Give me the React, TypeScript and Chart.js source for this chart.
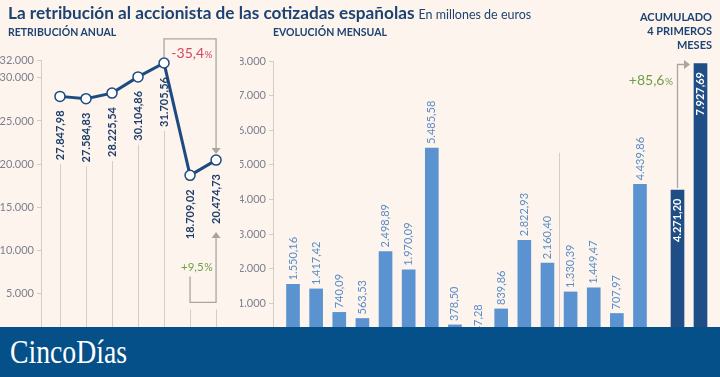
import React, { useEffect, useRef } from "react";
import { Chart, registerables } from "chart.js";

Chart.register(...registerables);

// ---------- DATA ----------
const annualYears = ["2015", "2016", "2017", "2018", "2019", "2020", "2021"];
const annualValues = [27847.98, 27584.83, 28225.54, 30104.86, 31705.56, 18709.02, 20474.73];
const annualTicks = [5000, 10000, 15000, 20000, 25000, 30000, 32000];

const monthLabels = [
  "Ene 21", "Feb 21", "Mar 21", "Abr 21", "May 21", "Jun 21", "Jul 21", "Ago 21",
  "Sep 21", "Oct 21", "Nov 21", "Dic 21", "Ene 22", "Feb 22", "Mar 22", "Abr 22",
];
const monthlyValues = [
  1550.16, 1417.42, 740.09, 563.53, 2498.89, 1970.09, 5485.58, 378.5,
  47.28, 839.86, 2822.93, 2160.4, 1330.39, 1449.47, 707.97, 4439.86,
];
const monthlyTicks = [1000, 2000, 3000, 4000, 5000, 6000, 7000, 8000];
const yearSplitIndex = 12;

const cumulativeLabels = ["Ene-abr 2021", "Ene-abr 2022"];
const cumulativeValues = [4271.2, 7927.69];

const dropLabel = "-35,4";
const recoveryLabel = "+9,5";
const cumulativeChangeLabel = "+85,6";

// ---------- STYLE ----------
const BG = "#fdf4ed";
const NAVY = "#1d4a80";
const TITLE = "#1c4373";
const LABEL_NAVY = "#1c3d6b";
const BAR_LIGHT = "#5b93d1";
const BAR_DARK = "#1f4d85";
const LABEL_LIGHT = "#5a8dc6";
const AXIS = "#d6ccc5";
const TICK = "#7c7f8e";
const ARROW = "#aaa5a2";
const RED = "#d8435e";
const GREEN = "#6e9f45";
const FONT = "Lato, 'Noto Sans', sans-serif";

function fmtThousands(v: number) {
  return Math.round(v).toString().replace(/\B(?=(\d{3})+(?!\d))/g, ".");
}
function fmtValue(v: number) {
  const [i, d] = v.toFixed(2).split(".");
  return i.replace(/\B(?=(\d{3})+(?!\d))/g, ".") + "," + d;
}

function arrowHead(ctx: CanvasRenderingContext2D, x: number, y: number, dir: "up" | "down" | "right") {
  ctx.save();
  ctx.fillStyle = ARROW;
  ctx.beginPath();
  if (dir === "down") {
    ctx.moveTo(x, y); ctx.lineTo(x - 4.5, y - 6); ctx.lineTo(x + 4.5, y - 6);
  } else if (dir === "up") {
    ctx.moveTo(x, y); ctx.lineTo(x - 4.5, y + 6); ctx.lineTo(x + 4.5, y + 6);
  } else {
    ctx.moveTo(x, y); ctx.lineTo(x - 6, y - 4.5); ctx.lineTo(x - 6, y + 4.5);
  }
  ctx.closePath();
  ctx.fill();
  ctx.restore();
}

function pctText(ctx: CanvasRenderingContext2D, num: string, xRight: number, baseline: number, color: string, size: number, pctSize: number) {
  ctx.save();
  ctx.fillStyle = color;
  ctx.textBaseline = "alphabetic";
  ctx.textAlign = "left";
  ctx.font = `${pctSize}px ${FONT}`;
  const pw = ctx.measureText("%").width;
  ctx.font = `${size}px ${FONT}`;
  const nw = ctx.measureText(num).width;
  const start = xRight - pw - nw;
  ctx.fillText(num, start, baseline);
  ctx.font = `${pctSize}px ${FONT}`;
  ctx.fillText("%", start + nw + 0.5, baseline);
  ctx.restore();
}

function rotText(ctx: CanvasRenderingContext2D, text: string, x: number, y: number, align: CanvasTextAlign) {
  ctx.save();
  ctx.translate(x, y);
  ctx.rotate(-Math.PI / 2);
  ctx.textAlign = align;
  ctx.textBaseline = "middle";
  ctx.fillText(text, 0, 0);
  ctx.restore();
}

const leftOverlay = {
  id: "leftOverlay",
  afterDatasetsDraw(chart: any) {
    const ctx: CanvasRenderingContext2D = chart.ctx;
    const meta = chart.getDatasetMeta(0);
    const ys = chart.scales.y;
    const area = chart.chartArea;
    const bracketBottom = ys.getPixelForValue(4000);
    const bracketLeftTop = ys.getPixelForValue(7000);
    const boxTop = ys.getPixelForValue(34500);
    ctx.save();
    ctx.font = `bold 11px ${FONT}`;
    const labelBottoms: number[] = [];
    meta.data.forEach((pt: any, i: number) => {
      const label = fmtValue(annualValues[i]);
      const w = ctx.measureText(label).width;
      const top = pt.y + 14;
      labelBottoms.push(top + w);
      ctx.fillStyle = LABEL_NAVY;
      rotText(ctx, label, pt.x, top, "right");
      const start = i < 5 ? top + w + 4 : bracketBottom + 7;
      ctx.strokeStyle = AXIS;
      ctx.lineWidth = 1;
      ctx.beginPath();
      ctx.moveTo(Math.round(pt.x) + 0.5, start);
      ctx.lineTo(Math.round(pt.x) + 0.5, area.bottom + 20);
      ctx.stroke();
    });
    const p4 = meta.data[4], p5 = meta.data[5], p6 = meta.data[6];
    ctx.strokeStyle = ARROW;
    ctx.lineWidth = 1.3;
    ctx.beginPath();
    ctx.moveTo(p4.x, p4.y - 6);
    ctx.lineTo(p4.x, boxTop);
    ctx.lineTo(p6.x, boxTop);
    ctx.lineTo(p6.x, p6.y - 11);
    ctx.stroke();
    arrowHead(ctx, p6.x, p6.y - 6, "down");
    pctText(ctx, dropLabel, p6.x - 4, boxTop + 19.5, RED, 14, 10);
    const tip = labelBottoms[6] + 8;
    ctx.beginPath();
    ctx.moveTo(p5.x, bracketLeftTop);
    ctx.lineTo(p5.x, bracketBottom);
    ctx.lineTo(p6.x, bracketBottom);
    ctx.lineTo(p6.x, tip + 5);
    ctx.stroke();
    arrowHead(ctx, p6.x, tip, "up");
    pctText(ctx, recoveryLabel, p6.x - 4, bracketLeftTop - 6, GREEN, 11.5, 10.5);
    ctx.restore();
  },
};

const midOverlay = {
  id: "midOverlay",
  afterDatasetsDraw(chart: any) {
    const ctx: CanvasRenderingContext2D = chart.ctx;
    const meta = chart.getDatasetMeta(0);
    const ys = chart.scales.y;
    const area = chart.chartArea;
    ctx.save();
    ctx.font = `11px ${FONT}`;
    ctx.fillStyle = LABEL_LIGHT;
    meta.data.forEach((bar: any, i: number) => {
      rotText(ctx, fmtValue(monthlyValues[i]), bar.x, bar.y - 4, "left");
    });
    const a = meta.data[yearSplitIndex - 1], b = meta.data[yearSplitIndex];
    const sx = Math.round((a.x + b.x) / 2) + 0.5;
    ctx.strokeStyle = AXIS;
    ctx.lineWidth = 1;
    ctx.beginPath();
    ctx.moveTo(sx, ys.getPixelForValue(5350));
    ctx.lineTo(sx, area.bottom + 20);
    ctx.stroke();
    ctx.restore();
  },
};

const rightOverlay = {
  id: "rightOverlay",
  afterDatasetsDraw(chart: any) {
    const ctx: CanvasRenderingContext2D = chart.ctx;
    const meta = chart.getDatasetMeta(0);
    ctx.save();
    ctx.font = `bold 11px ${FONT}`;
    ctx.fillStyle = "#ffffff";
    meta.data.forEach((bar: any, i: number) => {
      rotText(ctx, fmtValue(cumulativeValues[i]), bar.x, bar.y + 8.5, "right");
    });
    const b0 = meta.data[0], b1 = meta.data[1];
    const tipX = b1.x - b1.width / 2 - 4;
    ctx.strokeStyle = ARROW;
    ctx.lineWidth = 1.3;
    ctx.beginPath();
    ctx.moveTo(b0.x, b0.y - 2);
    ctx.lineTo(b0.x, b1.y + 1);
    ctx.lineTo(tipX - 5, b1.y + 1);
    ctx.stroke();
    arrowHead(ctx, tipX, b1.y + 1, "right");
    pctText(ctx, cumulativeChangeLabel, b0.x - 5, b1.y + 21.5, GREEN, 14, 10);
    ctx.restore();
  },
};

function yScale(max: number, ticks: number[], width: number) {
  return {
    min: 0,
    max,
    afterFit: (s: any) => { s.width = width; },
    afterBuildTicks: (s: any) => { s.ticks = ticks.map((v) => ({ value: v })); },
    border: { color: AXIS, width: 1 },
    grid: { drawOnChartArea: false, color: AXIS, tickLength: 4 },
    ticks: {
      callback: (v: any) => fmtThousands(Number(v)),
      font: { family: FONT, size: 11 },
      color: TICK,
      padding: 3,
    },
  };
}

const common = {
  animation: false as const,
  responsive: false,
  maintainAspectRatio: false,
  plugins: { legend: { display: false }, tooltip: { enabled: false } },
};

export default function App() {
  const leftRef = useRef<HTMLCanvasElement>(null);
  const midRef = useRef<HTMLCanvasElement>(null);
  const rightRef = useRef<HTMLCanvasElement>(null);

  useEffect(() => {
    document.body.style.margin = "0";
    const left = new Chart(leftRef.current!, {
      type: "line",
      data: {
        labels: annualYears,
        datasets: [{
          data: annualValues.map((v, i) => ({ x: i, y: v })),
          borderColor: NAVY,
          borderWidth: 3,
          pointRadius: 5,
          pointBackgroundColor: "#ffffff",
          pointBorderColor: NAVY,
          pointBorderWidth: 1.5,
          tension: 0,
          clip: false,
        }],
      },
      options: {
        ...common,
        layout: { autoPadding: false, padding: { top: 60.5, bottom: 40, left: 0, right: 0 } },
        scales: {
          x: { type: "linear", display: false, min: -0.73, max: annualValues.length - 1 + 0.92 },
          y: yScale(32000, annualTicks, 41),
        },
      } as any,
      plugins: [leftOverlay],
    });
    const mid = new Chart(midRef.current!, {
      type: "bar",
      data: {
        labels: monthLabels,
        datasets: [{
          data: monthlyValues.map((v, i) => ({ x: i, y: v })),
          backgroundColor: BAR_LIGHT,
          barThickness: 13,
        }],
      },
      options: {
        ...common,
        layout: { autoPadding: false, padding: { top: 61, bottom: 39, left: 0, right: 0 } },
        scales: {
          x: { type: "linear", display: false, offset: false, min: -0.865, max: monthlyValues.length - 1 + 0.865 },
          y: yScale(8000, monthlyTicks, 33),
        },
      } as any,
      plugins: [midOverlay],
    });
    const right = new Chart(rightRef.current!, {
      type: "bar",
      data: {
        labels: cumulativeLabels,
        datasets: [{ data: cumulativeValues, backgroundColor: BAR_DARK, barThickness: 13 }],
      },
      options: {
        ...common,
        layout: { autoPadding: false, padding: { top: 61, bottom: 39, left: 66, right: 8 } },
        scales: {
          x: { display: false },
          y: { display: false, min: 0, max: 8000 },
        },
      } as any,
      plugins: [rightOverlay],
    });
    return () => { left.destroy(); mid.destroy(); right.destroy(); };
  }, []);

  const abs = (l: number, t: number, w: number, h: number): React.CSSProperties => ({
    position: "absolute", left: l, top: t, width: w, height: h,
  });

  return (
    <div style={{ position: "fixed", left: 0, top: 0, width: 720, height: 377, background: BG, overflow: "hidden", fontFamily: FONT }}>
      <canvas ref={leftRef} width={240} height={377} style={abs(0, 0, 240, 377)} />
      <canvas ref={midRef} width={420} height={377} style={abs(240, 0, 420, 377)} />
      <canvas ref={rightRef} width={120} height={377} style={abs(600, 0, 120, 377)} />
      <div style={{ position: "absolute", left: 8, top: 2, whiteSpace: "nowrap", color: TITLE, lineHeight: "22px" }}>
        <span style={{ fontWeight: 700, fontSize: 17.2 }}>La retribución al accionista de las cotizadas españolas</span>
        <span style={{ fontSize: 12.5, marginLeft: 4 }}>En millones de euros</span>
      </div>
      <div style={{ position: "absolute", left: 8, top: 25, fontWeight: 700, fontSize: 10.5, color: TITLE, lineHeight: "14px", whiteSpace: "nowrap" }}>RETRIBUCIÓN ANUAL</div>
      <div style={{ position: "absolute", left: 273, top: 25, fontWeight: 700, fontSize: 10.5, color: TITLE, lineHeight: "14px", whiteSpace: "nowrap" }}>EVOLUCIÓN MENSUAL</div>
      <div style={{ position: "absolute", right: 8, top: 10, fontWeight: 700, fontSize: 11, color: TITLE, lineHeight: "14px", textAlign: "right", whiteSpace: "nowrap" }}>
        ACUMULADO<br />4 PRIMEROS<br />MESES
      </div>
      <div style={{ position: "absolute", left: 0, top: 327, width: 720, height: 50, background: "#06508a" }}>
        <div style={{ position: "absolute", left: 10, top: 7, fontFamily: "'Liberation Serif', 'DejaVu Serif', serif", fontSize: 33, color: "#ffffff", transform: "scaleX(0.84)", transformOrigin: "left top", whiteSpace: "nowrap", lineHeight: "36px" }}>
          CincoDías
        </div>
      </div>
    </div>
  );
}
